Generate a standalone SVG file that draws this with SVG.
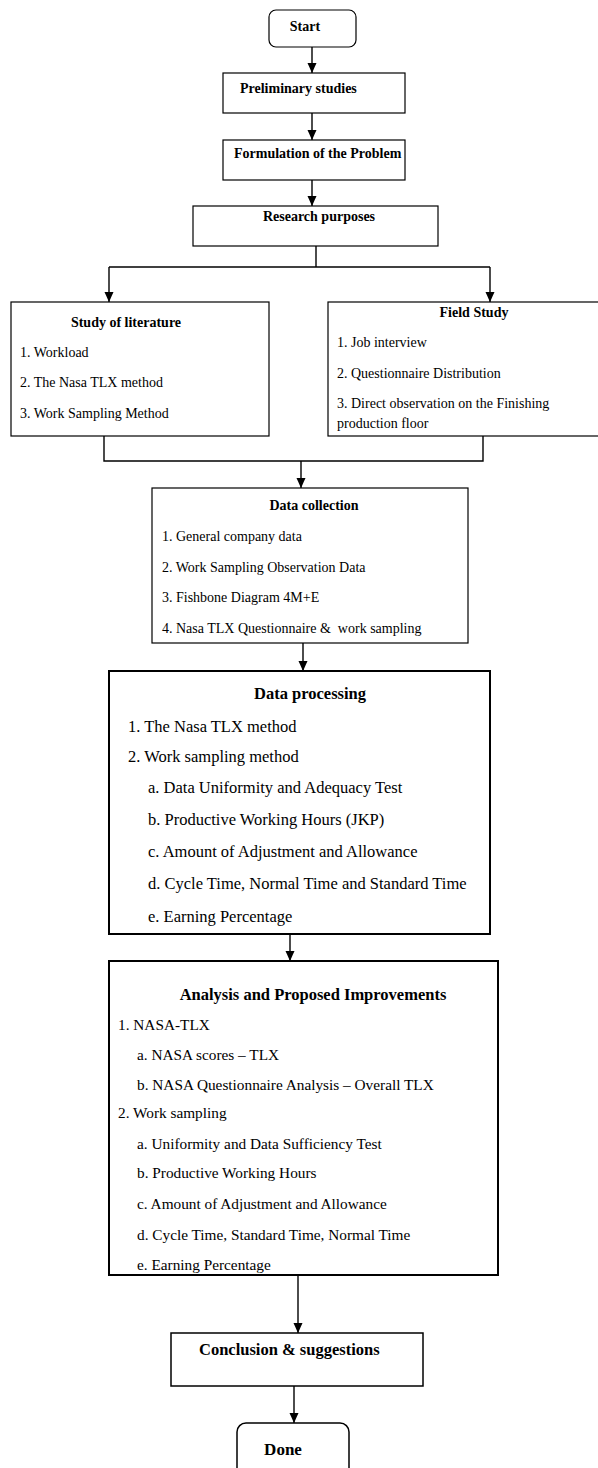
<svg xmlns="http://www.w3.org/2000/svg" width="598" height="1468" viewBox="0 0 598 1468">
<defs>
<marker id="ah" markerWidth="10" markerHeight="11" refX="10" refY="4.5" orient="auto" markerUnits="userSpaceOnUse"><path d="M0,0 L10,4.5 L0,9 z" fill="#000"/></marker>
<style>
.box{fill:#fff;stroke:#000;stroke-width:1.2}
.thick{stroke-width:2}
.t{font-family:"Liberation Serif","Times New Roman",serif;fill:#000;font-size:14px}
.b{font-weight:bold}
.m{text-anchor:middle}
.c{stroke:#000;stroke-width:1.4;fill:none}
.dp{font-size:16.5px}
.an{font-size:15.3px}
</style>
</defs>
<rect width="598" height="1468" fill="#fff"/>
<g id="connectors">
<line class="c" x1="312" y1="47" x2="312" y2="73" marker-end="url(#ah)"/>
<line class="c" x1="312" y1="113" x2="312" y2="140" marker-end="url(#ah)"/>
<line class="c" x1="312" y1="180" x2="312" y2="206" marker-end="url(#ah)"/>
<polyline class="c" points="316,246 316,267"/>
<line class="c" x1="109" y1="267" x2="490" y2="267"/>
<line class="c" x1="109" y1="267" x2="109" y2="302" marker-end="url(#ah)"/>
<line class="c" x1="490" y1="267" x2="490" y2="302" marker-end="url(#ah)"/>
<polyline class="c" points="104,436 104,461 483,461 483,436"/>
<line class="c" x1="301" y1="461" x2="301" y2="488" marker-end="url(#ah)"/>
<line class="c" x1="303" y1="643" x2="303" y2="671" marker-end="url(#ah)"/>
<line class="c" x1="290" y1="934" x2="290" y2="961" marker-end="url(#ah)"/>
<line class="c" x1="298" y1="1275" x2="298" y2="1333" marker-end="url(#ah)"/>
<line class="c" x1="294" y1="1386" x2="294" y2="1423" marker-end="url(#ah)"/>
</g>
<g id="start">
<rect class="box" x="269" y="10" width="87" height="37" rx="7"/>
<text class="t b m" x="305" y="31">Start</text>
</g>
<g id="preliminary">
<rect class="box" x="223" y="73" width="182" height="40"/>
<text class="t b" x="240" y="93">Preliminary studies</text>
</g>
<g id="formulation">
<rect class="box" x="223" y="140" width="182" height="40"/>
<text class="t b" x="234" y="158">Formulation of the Problem</text>
</g>
<g id="research">
<rect class="box" x="193" y="206" width="245" height="40"/>
<text class="t b m" x="319" y="221">Research purposes</text>
</g>
<g id="literature">
<rect class="box" x="11" y="302" width="258" height="134"/>
<text class="t b m" x="126" y="327">Study of literature</text>
<text class="t" x="20" y="357">1. Workload</text>
<text class="t" x="20" y="387">2. The Nasa TLX method</text>
<text class="t" x="20" y="418">3. Work Sampling Method</text>
</g>
<g id="field">
<rect class="box" x="328" y="302" width="275" height="134"/>
<text class="t b m" x="474" y="317">Field Study</text>
<text class="t" x="337" y="347">1. Job interview</text>
<text class="t" x="337" y="378">2. Questionnaire Distribution</text>
<text class="t" x="337" y="408">3. Direct observation on the Finishing</text>
<text class="t" x="337" y="428">production floor</text>
</g>
<g id="collection">
<rect class="box" x="152" y="488" width="316" height="155"/>
<text class="t b m" x="314" y="510">Data collection</text>
<text class="t" x="162" y="541">1. General company data</text>
<text class="t" x="162" y="572">2. Work Sampling Observation Data</text>
<text class="t" x="162" y="602">3. Fishbone Diagram 4M+E</text>
<text class="t" x="162" y="633" xml:space="preserve">4. Nasa TLX Questionnaire &amp;  work sampling</text>
</g>
<g id="processing">
<rect class="box thick" x="109" y="671" width="381" height="263"/>
<text class="t b m dp" x="310" y="699">Data processing</text>
<text class="t dp" x="128" y="732">1. The Nasa TLX method</text>
<text class="t dp" x="128" y="762">2. Work sampling method</text>
<text class="t dp" x="148" y="793">a. Data Uniformity and Adequacy Test</text>
<text class="t dp" x="148" y="825">b. Productive Working Hours (JKP)</text>
<text class="t dp" x="148" y="857">c. Amount of Adjustment and Allowance</text>
<text class="t dp" x="148" y="889">d. Cycle Time, Normal Time and Standard Time</text>
<text class="t dp" x="148" y="922">e. Earning Percentage</text>
</g>
<g id="analysis">
<rect class="box thick" x="109" y="961" width="389" height="314"/>
<text class="t b m dp" x="313" y="1000">Analysis and Proposed Improvements</text>
<text class="t an" x="118" y="1030">1. NASA-TLX</text>
<text class="t an" x="137" y="1060">a. NASA scores – TLX</text>
<text class="t an" x="137" y="1090">b. NASA Questionnaire Analysis – Overall TLX</text>
<text class="t an" x="118" y="1118">2. Work sampling</text>
<text class="t an" x="137" y="1149">a. Uniformity and Data Sufficiency Test</text>
<text class="t an" x="137" y="1178">b. Productive Working Hours</text>
<text class="t an" x="137" y="1209">c. Amount of Adjustment and Allowance</text>
<text class="t an" x="137" y="1240">d. Cycle Time, Standard Time, Normal Time</text>
<text class="t an" x="137" y="1270">e. Earning Percentage</text>
</g>
<g id="conclusion">
<rect class="box" x="171" y="1333" width="252" height="53" style="stroke-width:1.5"/>
<text class="t b dp" x="199" y="1355">Conclusion &amp; suggestions</text>
</g>
<g id="done">
<rect class="box" x="237" y="1423" width="112" height="60" rx="9" style="stroke-width:1.5"/>
<text class="t b m" x="283" y="1455" style="font-size:17px">Done</text>
</g>
</svg>
